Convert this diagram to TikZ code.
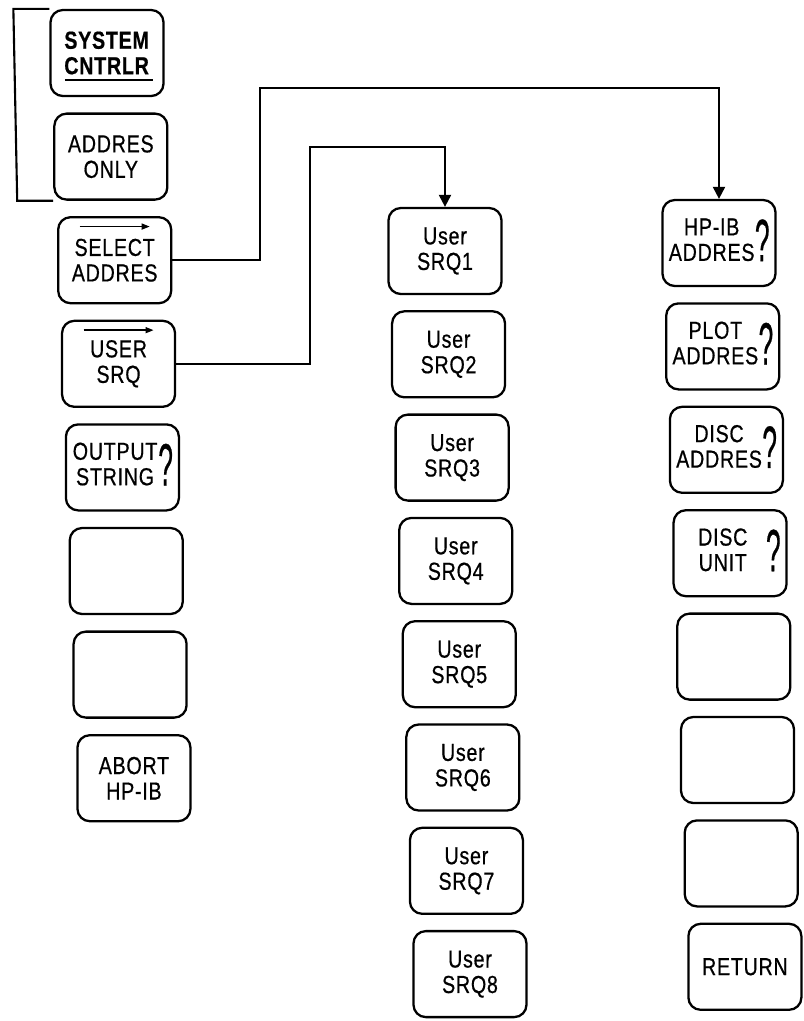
\documentclass[tikz,border=0pt]{standalone}
\usepackage{fontspec}
\setmainfont{Liberation Sans}[FakeStretch=0.8,LetterSpace=3,FakeBold=0.6]
\usetikzlibrary{arrows.meta}
\newcommand{\bigquery}{\raisebox{-6.7pt}{\scalebox{0.55}[1]{\fontsize{34}{34}\selectfont ?}}}
\newcommand{\qkey}[1]{\makebox[1.73cm]{\begin{tabular}{@{}c@{}}#1\end{tabular}}\bigquery}
\begin{document}
\begin{tikzpicture}[x=0.2mm,y=-0.2mm,
    key/.style={draw,line width=1.3pt,rounded corners=7pt,minimum width=2.26cm,
        minimum height=1.72cm,inner sep=0pt,align=center,
        font=\fontsize{14}{14.5}\selectfont},
    link/.style={line width=1.2pt,-{Triangle[length=2.4mm,width=2.4mm]}}]
    \useasboundingbox (0,0) rectangle (804,1021);
    % left column
    \foreach \txt [count=\i] in {{\textbf{SYSTEM}\\\textbf{CNTRLR}},{ADDRES\\ONLY},
        {SELECT\\ADDRES},{USER\\SRQ},{\qkey{OUTPUT\\STRING}},{},{},{ABORT\\HP-IB}}
    \node[key] (L\i) at ({107+3.85*(\i-1)},{53+103.6*(\i-1)}) {\txt};
    % middle column
    \foreach \i in {1,...,8}
    \node[key] (M\i) at ({445+3.57*(\i-1)},{251+103.3*(\i-1)}) {User\\SRQ\i};
    % right column
    \foreach \txt [count=\i] in {{\qkey{HP-IB\\ADDRES}},{\qkey{PLOT\\ADDRES}},
        {\qkey{DISC\\ADDRES}},{\qkey{DISC\\UNIT}},{},{},{},{RETURN}}
    \node[key] (R\i) at ({719+3.7*(\i-1)},{243+103.4*(\i-1)}) {\txt};
    \draw[line width=1.3pt] ([xshift=-0.84cm,yshift=-0.54cm]L1.center) --
        ([xshift=0.92cm,yshift=-0.54cm]L1.center);
    \draw[line width=1.2pt] (L1.north west) -- ++(-36,0) --
        ([xshift=-0.72cm]L2.south west) -- (L2.south west);
    \foreach \n in {L3,L4}
    \draw[line width=0.8pt,-{Triangle[length=1.6mm,width=1.2mm]}]
        ([xshift=-0.7cm,yshift=-0.21cm]\n.north) --
        ([xshift=0.7cm,yshift=-0.21cm]\n.north);
    \coordinate (selbend) at (260,88);
    \coordinate (srqbend) at (310,147);
    \draw[link] (L3.east) -| (selbend) -| (R1.north);
    \draw[link] (L4.east) -| (srqbend) -| (M1.north);
\end{tikzpicture}
\end{document}
